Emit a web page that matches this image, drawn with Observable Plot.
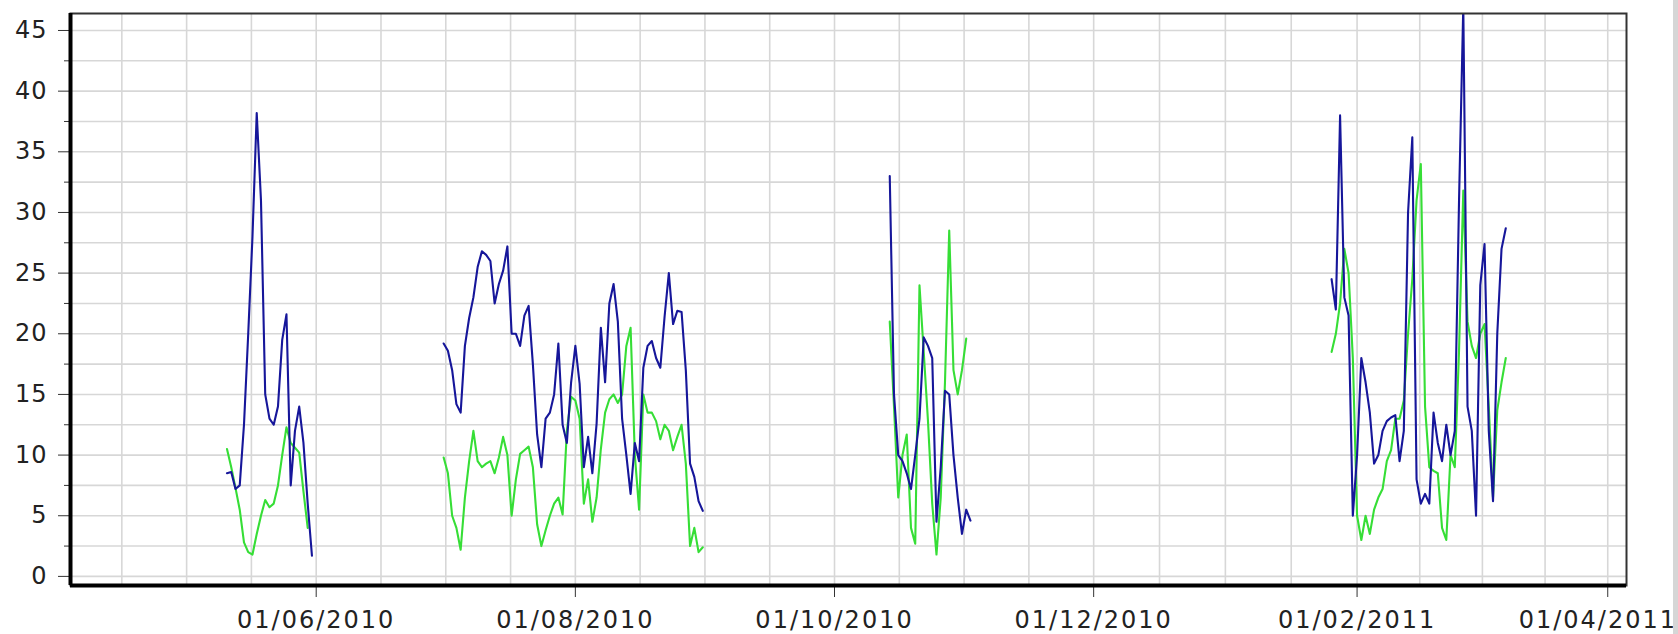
<!DOCTYPE html>
<html>
<head>
<meta charset="utf-8">
<script src="https://cdn.jsdelivr.net/npm/d3@7"></script>
<script src="https://cdn.jsdelivr.net/npm/@observablehq/plot@0.6"></script>
<style>
  html, body { margin: 0; padding: 0; background: #fff; }
  #chart { position: relative; width: 1678px; height: 634px; overflow: hidden; }
  #chart svg { display: block; }
  #edge { position: absolute; left: 1673px; top: 0; width: 5px; height: 634px; background: #d6d6d6; }
</style>
</head>
<body>
<div id="chart"><div id="edge"></div></div>
<script>
// ---- data (daily values, one array per continuous segment) ----
const segmentStarts = ["2010-05-11", "2010-07-01", "2010-10-14", "2011-01-26"];

const blueSeg1 = [8.5, 8.6, 7.2, 7.5, 12.5, 20, 28, 38.2, 31, 15, 13, 12.5, 14, 19.5, 21.6, 7.5, 12, 14, 11, 6, 1.7];
const blueSeg2 = [
  19.2, 18.6, 17, 14.2, 13.5, 19, 21.3, 23, 25.5, 26.8, 26.5, 26, 22.5, 24.1, 25.2, 27.2,
  20, 20, 19, 21.5, 22.3, 17.5, 11.7, 9, 13, 13.5, 15, 19.2, 12.5, 11, 16,
  19, 15.9, 9, 11.5, 8.5, 12.6, 20.5, 16, 22.5, 24.1, 21, 13, 10, 6.8, 11, 9.5,
  17.2, 19, 19.4, 18, 17.2, 21.4, 25, 20.8, 21.9, 21.8, 17, 9.3, 8.2, 6.2, 5.4
];
const blueSeg3 = [33, 15, 10, 9.5, 8.5, 7.2, 10, 13, 19.7, 19, 18, 4.5, 9, 15.3, 15, 10, 6.5, 3.5, 5.5, 4.6];
const blueSeg4 = [
  24.5, 22, 38, 23, 21.5, 5,
  10, 18, 16, 13.5, 9.3, 10, 12, 12.8, 13.1, 13.3, 9.5, 12, 30, 36.2, 8, 6, 6.8, 6, 13.5, 11, 9.5, 12.5, 10, 12, 31, 47, 14, 12,
  5, 24, 27.4, 12, 6.2, 20, 27, 28.7
];

const greenSeg1 = [10.5, 9, 7.3, 5.5, 2.8, 2, 1.8, 3.5, 5, 6.3, 5.7, 6, 7.5, 10, 12.3, 11, 10.6, 10.2, 7, 4];
const greenSeg2 = [
  9.8, 8.5, 5, 4, 2.2, 6.5, 9.5, 12, 9.5, 9, 9.3, 9.5, 8.5, 9.8, 11.5, 10,
  5, 8, 10.1, 10.4, 10.7, 9, 4.3, 2.5, 3.8, 5, 6, 6.5, 5.1, 12, 14.8,
  14.5, 13, 6, 8, 4.5, 6.5, 10.5, 13.5, 14.6, 15, 14.3, 15, 19, 20.5, 10, 5.5,
  15, 13.5, 13.5, 12.8, 11.3, 12.5, 12, 10.4, 11.5, 12.5, 9.3, 2.5, 4, 2, 2.4
];
const greenSeg3 = [21, 14, 6.5, 10, 11.7, 4, 2.7, 24, 18.5, 12.8, 6, 1.8, 6.5, 16, 28.5, 17, 15, 17, 19.6];
const greenSeg4 = [
  18.5, 20, 22.5, 27, 25, 18,
  5, 3, 5, 3.5, 5.5, 6.5, 7.2, 9.5, 10.4, 13, 13, 14.5, 20, 24.5, 31, 34, 14, 9, 8.7, 8.5, 4, 3, 10, 9, 18.6, 31.8, 21, 19,
  18, 20, 20.8, 14, 6.5, 13.7, 16, 18
];

const seriesNames = ["blue", "green"];
const seriesColors = ["#16169a", "#36de36"];

const labelDates = ["2010-06-01", "2010-08-01", "2010-10-01", "2010-12-01", "2011-02-01", "2011-04-01"];
const gridAnchor = "2010-04-01";
const yLabelTicks = [0, 5, 10, 15, 20, 25, 30, 35, 40, 45];
const yMinorTicks = [2.5, 7.5, 12.5, 17.5, 22.5, 27.5, 32.5, 37.5, 42.5];

// ---- scales ----
const xDomain = [new Date(Date.UTC(2010, 3, 4, 4)), new Date(Date.UTC(2011, 3, 5, 10))];
const yDomain = [-0.75, 46.4];

const parse = s => new Date(s + "T00:00:00Z");

function buildRows(name, segments) {
  const rows = [];
  segments.forEach((vals, i) => {
    const t0 = parse(segmentStarts[i]);
    vals.forEach((v, j) => rows.push({date: d3.utcDay.offset(t0, j), value: v, series: name, key: name + i}));
  });
  return rows;
}
const blueRows = buildRows(seriesNames[0], [blueSeg1, blueSeg2, blueSeg3, blueSeg4]);
const greenRows = buildRows(seriesNames[1], [greenSeg1, greenSeg2, greenSeg3, greenSeg4]);

// vertical gridlines: each two-month label interval split in four
const anchors = [gridAnchor, ...labelDates].map(parse);
const gridDates = [];
for (let i = 0; i < anchors.length - 1; i++) {
  const a = +anchors[i], b = +anchors[i + 1];
  for (let k = 0; k < 4; k++) gridDates.push(new Date(a + (b - a) * k / 4));
}
gridDates.push(anchors[anchors.length - 1]);
const gridInDomain = gridDates.filter(d => d > xDomain[0] && d < xDomain[1]);
const yGrid = [...yLabelTicks, ...yMinorTicks];

const chart = Plot.plot({
  width: 1678,
  height: 634,
  marginLeft: 70,
  marginRight: 52,
  marginTop: 13,
  marginBottom: 49,
  style: {fontFamily: "'DejaVu Sans', Verdana, sans-serif", fontSize: "24px", color: "#222", background: "#fff", letterSpacing: "1px"},
  x: {type: "utc", domain: xDomain, label: null},
  y: {domain: yDomain, label: null},
  marks: [
    Plot.gridX(gridInDomain, {stroke: "#d7d7d7", strokeOpacity: 1, strokeWidth: 1.6}),
    Plot.gridY(yGrid, {stroke: "#d7d7d7", strokeOpacity: 1, strokeWidth: 1.6}),
    Plot.axisY(yLabelTicks, {tickSize: 12, tickPadding: 11, tickFormat: d => String(d), stroke: "#333", fontSize: 24, label: null}),
    Plot.axisY(yMinorTicks, {tickSize: 6, tickFormat: () => "", stroke: "#333", label: null}),
    Plot.axisX(labelDates.map(parse), {tickSize: 12, tickPadding: 13, tickFormat: d3.utcFormat("%d/%m/%Y"), stroke: "#333", fontSize: 24, label: null}),
    Plot.line(greenRows, {x: "date", y: "value", z: "key", stroke: seriesColors[1], strokeWidth: 2.1, clip: true}),
    Plot.line(blueRows, {x: "date", y: "value", z: "key", stroke: seriesColors[0], strokeWidth: 2.1, clip: true}),
    Plot.frame({stroke: "#333", strokeWidth: 2}),
    Plot.ruleX([xDomain[0]], {stroke: "#000", strokeWidth: 4}),
    Plot.ruleY([yDomain[0]], {stroke: "#000", strokeWidth: 4})
  ]
});
// wider letter spacing on the date labels, as in the reference
const xLabels = d3.select(chart).selectAll('g[aria-label="x-axis tick label"] text').style("letter-spacing", "2px");
document.getElementById("chart").prepend(chart);
// keep the last date label inside the picture
xLabels.each(function () {
  const r = this.getBoundingClientRect();
  const limit = 1677;
  if (r.right > limit) this.setAttribute("dx", String(-(r.right - limit)));
});
</script>
</body>
</html>
